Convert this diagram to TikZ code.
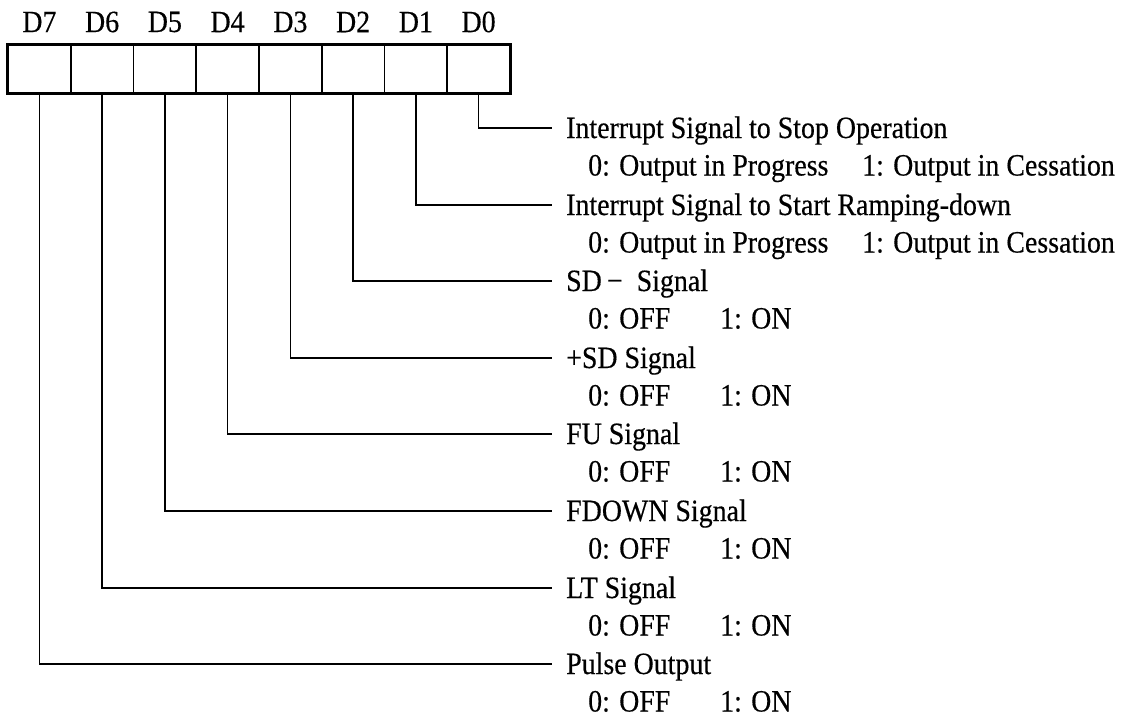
\documentclass[tikz,border=0pt]{standalone}
\usepackage{fontspec}
\setmainfont{Liberation Serif}[FakeStretch=0.9, FakeBold=0.4]
\usetikzlibrary{positioning}
\tikzset{
  cell/.style={draw, line width=1.5pt, minimum width=62.75pt, minimum height=48pt,
               inner sep=0pt},
  regbox/.style={line width=2.6pt},
  bitlbl/.style={font=\fontsize{31}{36}\selectfont, inner sep=0pt},
  wire/.style={line width=1.3pt},
  % signal names and their 0/1 meanings, placed on their baseline
  sig/.style={font=\fontsize{31}{36}\selectfont, anchor=base west, inner sep=0pt},
}
\newcommand{\states}[3]{\makebox[#1][l]{#2}#3}

\begin{document}
\begin{tikzpicture}[x=1pt, y=-1pt]
\useasboundingbox (0,0) rectangle (1141,717);

%% ── the register, D7 on the left ─────────────────────────────────────────
\node[cell] (c7) at (39.4,69) {};
\node[cell] (c6) at (102.1,69) {};
\node[cell] (c5) at (164.9,69) {};
\node[cell] (c4) at (227.6,69) {};
\node[cell] (c3) at (290.4,69) {};
\node[cell] (c2) at (353.1,69) {};
\node[cell] (c1) at (415.9,69) {};
\node[cell] (c0) at (478.6,69) {};
\draw[regbox] (c7.north west) rectangle (c0.south east);

\node[bitlbl] (l7) at (39.4,22) {D7};
\node[bitlbl] (l6) at (102.1,22) {D6};
\node[bitlbl] (l5) at (164.9,22) {D5};
\node[bitlbl] (l4) at (227.6,22) {D4};
\node[bitlbl] (l3) at (290.4,22) {D3};
\node[bitlbl] (l2) at (353.1,22) {D2};
\node[bitlbl] (l1) at (415.9,22) {D1};
\node[bitlbl] (l0) at (478.6,22) {D0};

%% ── where each bit's line stops ──────────────────────────────────────────
\coordinate (e0) at (552,128);
\coordinate (e1) at (552,205);
\coordinate (e2) at (552,281);
\coordinate (e3) at (552,358);
\coordinate (e4) at (552,434);
\coordinate (e5) at (552,511);
\coordinate (e6) at (552,588);
\coordinate (e7) at (552,664);

\draw[wire] (c0.south) |- (e0);
\draw[wire] (c1.south) |- (e1);
\draw[wire] (c2.south) |- (e2);
\draw[wire] (c3.south) |- (e3);
\draw[wire] (c4.south) |- (e4);
\draw[wire] (c5.south) |- (e5);
\draw[wire] (c6.south) |- (e6);
\draw[wire] (c7.south) |- (e7);

%% ── meaning of each bit ──────────────────────────────────────────────────
\node[sig] (t0) at ([xshift=14pt,yshift=-10pt]e0) {Interrupt Signal to Stop Operation};
\node[sig] (s0) at ([xshift=22pt,yshift=-37.5pt]t0.base west)
  {\states{274pt}{0: Output in Progress}{1: Output in Cessation}};
\node[sig] (t1) at ([xshift=14pt,yshift=-10pt]e1) {Interrupt Signal to Start Ramping-down};
\node[sig] (s1) at ([xshift=22pt,yshift=-37.5pt]t1.base west)
  {\states{274pt}{0: Output in Progress}{1: Output in Cessation}};
\node[sig] (t2) at ([xshift=14pt,yshift=-10pt]e2) {SD\,−\hspace{0.45em}Signal};
\node[sig] (s2) at ([xshift=22pt,yshift=-37.5pt]t2.base west)
  {\states{132pt}{0: OFF}{1: ON}};
\node[sig] (t3) at ([xshift=14pt,yshift=-10pt]e3) {+SD Signal};
\node[sig] (s3) at ([xshift=22pt,yshift=-37.5pt]t3.base west)
  {\states{132pt}{0: OFF}{1: ON}};
\node[sig] (t4) at ([xshift=14pt,yshift=-10pt]e4) {FU Signal};
\node[sig] (s4) at ([xshift=22pt,yshift=-37.5pt]t4.base west)
  {\states{132pt}{0: OFF}{1: ON}};
\node[sig] (t5) at ([xshift=14pt,yshift=-10pt]e5) {FDOWN Signal};
\node[sig] (s5) at ([xshift=22pt,yshift=-37.5pt]t5.base west)
  {\states{132pt}{0: OFF}{1: ON}};
\node[sig] (t6) at ([xshift=14pt,yshift=-10pt]e6) {LT Signal};
\node[sig] (s6) at ([xshift=22pt,yshift=-37.5pt]t6.base west)
  {\states{132pt}{0: OFF}{1: ON}};
\node[sig] (t7) at ([xshift=14pt,yshift=-10pt]e7) {Pulse Output};
\node[sig] (s7) at ([xshift=22pt,yshift=-37.5pt]t7.base west)
  {\states{132pt}{0: OFF}{1: ON}};

\end{tikzpicture}
\end{document}
